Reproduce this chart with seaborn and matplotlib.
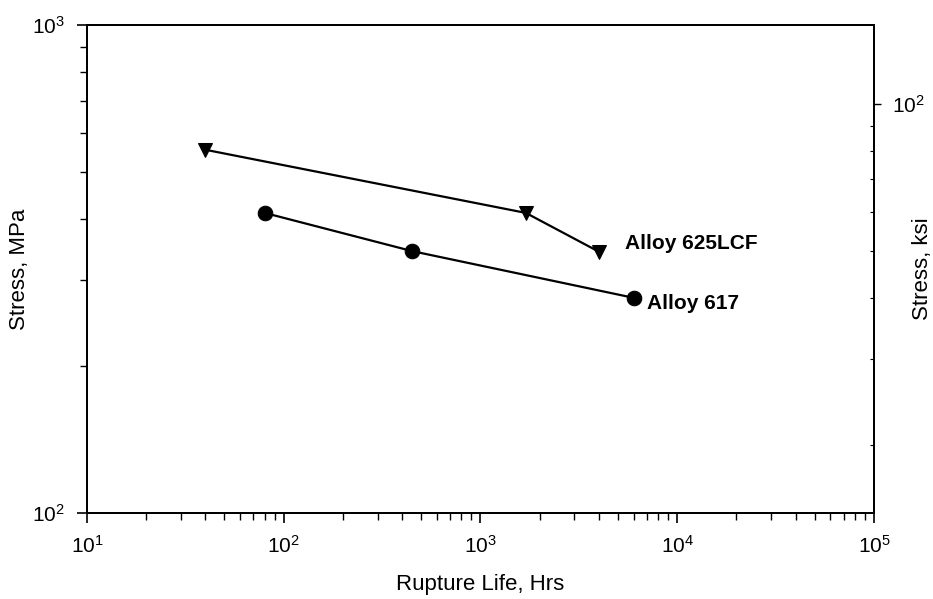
import pandas as pd
import matplotlib.pyplot as plt
import seaborn as sns
import numpy as np
from matplotlib.ticker import LogLocator, NullFormatter

sns.set_style('ticks')
plt.rcParams['font.family'] = ['Liberation Sans', 'DejaVu Sans']
plt.rcParams['mathtext.fontset'] = 'custom'
plt.rcParams['mathtext.rm'] = 'Liberation Sans'
plt.rcParams.update({'text.color': 'black', 'axes.labelcolor': 'black',
                     'xtick.color': 'black', 'ytick.color': 'black'})

# Data
life_625 = [40, 1700, 4000]
stress_625 = [555, 412, 343]
life_617 = [80, 450, 6000]
stress_617 = [412, 344, 276]
alloys = ['Alloy 625LCF', 'Alloy 617']

df = pd.concat([
    pd.DataFrame({'life': life_625, 'stress': stress_625, 'alloy': alloys[0]}),
    pd.DataFrame({'life': life_617, 'stress': stress_617, 'alloy': alloys[1]}),
])

MPA_PER_KSI = 6.895

fig = plt.figure(figsize=(9.33, 5.99), dpi=100)
ax = fig.add_axes([0.0932, 0.1436, 0.8436, 0.8147])

sns.lineplot(data=df, x='life', y='stress', hue='alloy', style='alloy',
             markers={alloys[0]: 'v', alloys[1]: 'o'}, dashes=False,
             palette={alloys[0]: 'black', alloys[1]: 'black'},
             markersize=10.5, linewidth=1.6, markeredgecolor='black',
             legend=False, ax=ax, sort=False)

ax.set_xscale('log')
ax.set_yscale('log')
ax.set_xlim(10, 1e5)
ax.set_ylim(100, 1000)

ax.xaxis.set_major_locator(LogLocator(base=10, numticks=10))
ax.xaxis.set_minor_locator(LogLocator(base=10, subs=np.arange(2, 10), numticks=20))
ax.xaxis.set_minor_formatter(NullFormatter())
ax.yaxis.set_minor_locator(LogLocator(base=10, subs=np.arange(2, 10), numticks=20))
ax.yaxis.set_minor_formatter(NullFormatter())

ax.tick_params(axis='both', which='major', length=7, width=1.2, labelsize=15, direction='out', pad=9)
ax.tick_params(axis='both', which='minor', length=5, width=1.0, direction='out')
ax.tick_params(top=False, right=False, which='both')

for s in ax.spines.values():
    s.set_linewidth(1.4)
    s.set_color('black')

ax.set_xlabel('Rupture Life, Hrs', fontsize=16, labelpad=12)
ax.set_ylabel('Stress, MPa', fontsize=16)
ax.yaxis.set_label_coords(-0.072, 0.5)

# Right axis in ksi
ax2 = ax.twinx()
ax2.set_yscale('log')
ax2.set_ylim(100 / MPA_PER_KSI, 1000 / MPA_PER_KSI)
ax2.yaxis.set_major_locator(LogLocator(base=10, numticks=10))
ax2.yaxis.set_minor_locator(LogLocator(base=10, subs=np.arange(2, 10), numticks=20))
ax2.yaxis.set_minor_formatter(NullFormatter())
ax2.tick_params(axis='y', which='major', length=5, width=1.0, labelsize=15, direction='out', pad=8)
ax2.tick_params(axis='y', which='minor', length=3, width=0.8, direction='in')
ax2.set_ylabel('Stress, ksi', fontsize=16)
ax2.yaxis.set_label_coords(1.048, 0.5)
for s in ax2.spines.values():
    s.set_linewidth(1.4)
    s.set_color('black')

# direct labels
ax.text(5420, 356, alloys[0], fontsize=15, fontweight='bold', va='center', ha='left')
ax.text(7010, 269, alloys[1], fontsize=15, fontweight='bold', va='center', ha='left')

fig.savefig('out.png', dpi=100)
